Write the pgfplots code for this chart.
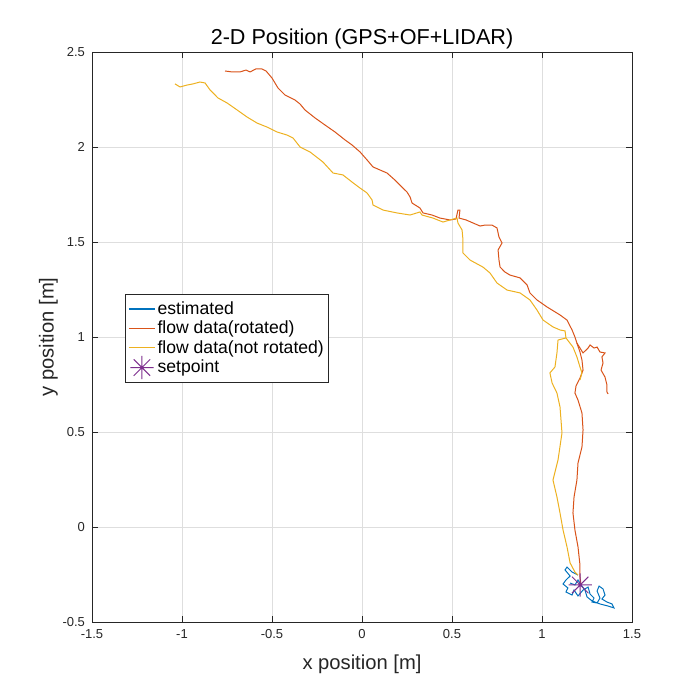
\documentclass[border=0pt]{standalone}
\usepackage{pgfplots}
\pgfplotsset{compat=1.18}
\usepackage{fontspec}
\setmainfont{Liberation Sans}
\definecolor{mblue}{rgb}{0,0.447,0.741}
\definecolor{mred}{rgb}{0.85,0.325,0.098}
\definecolor{myel}{rgb}{0.929,0.694,0.125}
\definecolor{mpur}{rgb}{0.494,0.184,0.556}
\definecolor{axgray}{rgb}{0.15,0.15,0.15}
\pgfdeclareplotmark{mstar}{%
  \pgfpathmoveto{\pgfqpoint{-\pgfplotmarksize}{0pt}}\pgfpathlineto{\pgfqpoint{\pgfplotmarksize}{0pt}}%
  \pgfpathmoveto{\pgfqpoint{0pt}{-\pgfplotmarksize}}\pgfpathlineto{\pgfqpoint{0pt}{\pgfplotmarksize}}%
  \pgfpathmoveto{\pgfqpoint{-0.707\pgfplotmarksize}{-0.707\pgfplotmarksize}}\pgfpathlineto{\pgfqpoint{0.707\pgfplotmarksize}{0.707\pgfplotmarksize}}%
  \pgfpathmoveto{\pgfqpoint{-0.707\pgfplotmarksize}{0.707\pgfplotmarksize}}\pgfpathlineto{\pgfqpoint{0.707\pgfplotmarksize}{-0.707\pgfplotmarksize}}%
  \pgfusepathqstroke}
\pgfplotsset{
  lineleg/.style={legend image code/.code={\draw[##1, line width=0.6pt] (-1pt,0.3pt) -- (12pt,0.3pt);}},
  markleg/.style={legend image code/.code={\draw[##1] plot coordinates {(5.5pt,0pt)};}},
}
\begin{document}
\begin{tikzpicture}
\path[use as bounding box] (0,0) rectangle (350pt,350pt);
\begin{axis}[
  at={(46pt,39pt)}, anchor=south west,
  scale only axis, width=270pt, height=285pt,
  xmin=-1.5, xmax=1.5, ymin=-0.5, ymax=2.5,
  xtick={-1.5,-1,-0.5,0,0.5,1,1.5},
  ytick={-0.5,0,0.5,1,1.5,2,2.5},
  grid=major,
  grid style={color=black!13, line width=0.4pt},
  axis line style={color=axgray, line width=0.4pt},
  tick style={color=axgray, line width=0.4pt},
  major tick length=3pt,
  tick align=inside,
  /pgf/number format/assume math mode=true,
  tick label style={font=\fontsize{6.5}{7}\selectfont, color=axgray},
  xlabel={x position [m]}, ylabel={y position [m]},
  label style={font=\fontsize{10.1}{11}\selectfont, color=axgray},
  xlabel style={yshift=-1.5pt},
  ylabel style={yshift=-4.5pt},
  title={2-D Position (GPS+OF+LIDAR)},
  title style={font=\fontsize{10.8}{12}\selectfont, yshift=-8pt},
  legend style={at={(rel axis cs:0.061,0.575)}, anchor=north west,
    font=\fontsize{8.8}{10}\selectfont, draw=axgray, line width=0.4pt,
    row sep=-2.2pt, inner sep=1.5pt,
    nodes={inner xsep=1pt}},
  legend cell align=left,
  lineleg,
  every axis plot/.append style={line width=0.5pt},
]
\addplot[mblue] coordinates {
(1.200,-0.253) (1.167,-0.237) (1.139,-0.211) (1.128,-0.226) (1.156,-0.258)
(1.133,-0.279) (1.117,-0.300) (1.144,-0.321) (1.133,-0.342) (1.167,-0.358)
(1.178,-0.332) (1.200,-0.363) (1.228,-0.332) (1.256,-0.316) (1.267,-0.353)
(1.289,-0.374) (1.278,-0.395) (1.306,-0.400) (1.322,-0.374) (1.306,-0.337)
(1.317,-0.311) (1.339,-0.326) (1.350,-0.358) (1.333,-0.379) (1.361,-0.395)
(1.389,-0.405) (1.400,-0.426) (1.367,-0.416) (1.322,-0.405) (1.278,-0.389)
(1.250,-0.368) (1.239,-0.332) (1.217,-0.305) (1.200,-0.279) (1.183,-0.305)
(1.156,-0.295)
};
\addlegendentry{estimated}
\addplot[mred] coordinates {
(-0.761,2.400) (-0.722,2.395) (-0.678,2.395) (-0.644,2.405) (-0.622,2.395)
(-0.589,2.411) (-0.556,2.411) (-0.533,2.400) (-0.500,2.363) (-0.467,2.311)
(-0.428,2.274) (-0.372,2.247) (-0.344,2.226) (-0.317,2.195) (-0.261,2.153)
(-0.206,2.116) (-0.150,2.079) (-0.094,2.037) (-0.056,2.011) (-0.011,1.974)
(0.028,1.932) (0.061,1.895) (0.100,1.879) (0.139,1.863) (0.183,1.826)
(0.222,1.789) (0.250,1.763) (0.267,1.737) (0.278,1.705) (0.322,1.679)
(0.339,1.653) (0.389,1.642) (0.433,1.626) (0.489,1.616) (0.522,1.621)
(0.533,1.668) (0.544,1.668) (0.539,1.626) (0.578,1.616) (0.617,1.600)
(0.656,1.584) (0.683,1.589) (0.722,1.589) (0.750,1.574) (0.761,1.526)
(0.778,1.495) (0.756,1.458) (0.761,1.405) (0.767,1.368) (0.794,1.342)
(0.822,1.326) (0.878,1.311) (0.917,1.274) (0.933,1.232) (0.972,1.195)
(1.028,1.158) (1.100,1.116) (1.139,1.089) (1.167,1.037) (1.183,1.000)
(1.194,0.968) (1.228,0.916) (1.256,0.942) (1.267,0.958) (1.289,0.942)
(1.306,0.947) (1.322,0.921) (1.350,0.916) (1.333,0.895) (1.339,0.863)
(1.328,0.826) (1.350,0.789) (1.361,0.747) (1.361,0.711) (1.367,0.700)
};
\addlegendentry{flow data(rotated)}
\addplot[myel] coordinates {
(-1.039,2.332) (-1.011,2.316) (-0.972,2.326) (-0.939,2.332) (-0.900,2.342)
(-0.872,2.337) (-0.844,2.300) (-0.800,2.258) (-0.750,2.232) (-0.694,2.195)
(-0.639,2.158) (-0.583,2.126) (-0.528,2.105) (-0.472,2.079) (-0.417,2.063)
(-0.383,2.047) (-0.344,2.000) (-0.289,1.974) (-0.217,1.921) (-0.161,1.863)
(-0.106,1.853) (-0.056,1.816) (-0.011,1.784) (0.028,1.758) (0.044,1.737)
(0.056,1.721) (0.061,1.695) (0.117,1.668) (0.194,1.653) (0.267,1.642)
(0.322,1.658) (0.333,1.642) (0.394,1.626) (0.450,1.605) (0.489,1.616)
(0.528,1.626) (0.533,1.600) (0.556,1.563) (0.561,1.511) (0.561,1.442)
(0.600,1.405) (0.672,1.368) (0.711,1.337) (0.750,1.284) (0.806,1.247)
(0.878,1.232) (0.933,1.195) (0.972,1.142) (1.006,1.089) (1.061,1.053)
(1.100,1.037) (1.128,1.032) (1.133,0.995) (1.089,0.984) (1.083,0.916)
(1.072,0.842) (1.044,0.811) (1.056,0.758) (1.083,0.705) (1.100,0.632)
(1.111,0.495) (1.089,0.353) (1.061,0.247) (1.083,0.158) (1.100,0.074)
(1.117,-0.016) (1.139,-0.105) (1.156,-0.189) (1.183,-0.237) (1.200,-0.253)
};
\addlegendentry{flow data(not rotated)}
\addplot[only marks, mark=mstar, mark size=5.8pt, mpur, mark options={line width=0.5pt}, markleg] coordinates {(1.212,-0.305)};
\addlegendentry{setpoint}
\addplot[mred, forget plot] coordinates {
(1.194,0.968) (1.211,0.921) (1.222,0.879) (1.228,0.826) (1.211,0.784)
(1.189,0.742) (1.183,0.705) (1.200,0.668) (1.222,0.600) (1.228,0.511)
(1.222,0.421) (1.200,0.337) (1.194,0.247) (1.178,0.158) (1.172,0.074)
(1.183,-0.016) (1.200,-0.105) (1.211,-0.200) (1.211,-0.263) (1.217,-0.305)
};
\addplot[myel, forget plot] coordinates {
(1.133,0.995) (1.172,0.947) (1.194,0.895) (1.211,0.842) (1.222,0.811) (1.211,0.774)
};
\end{axis}
\end{tikzpicture}
\end{document}
